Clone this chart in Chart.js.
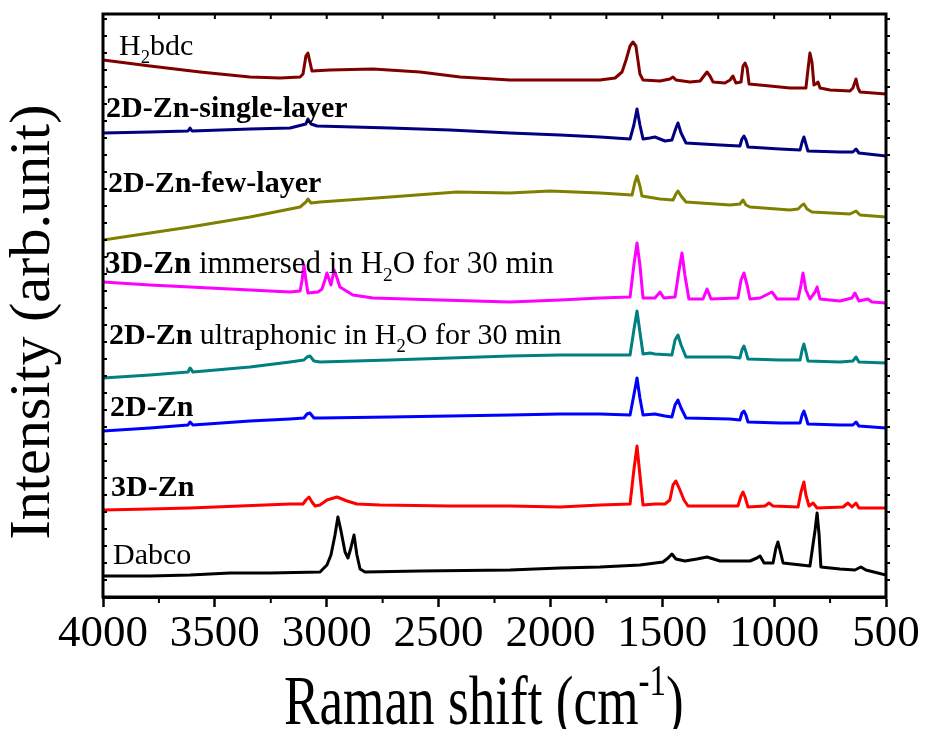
<!DOCTYPE html>
<html>
<head>
<meta charset="utf-8">
<script src="https://cdn.jsdelivr.net/npm/chart.js@4.4.1/dist/chart.umd.min.js"></script>
<style>
html,body{margin:0;padding:0;background:#fff}
</style>
</head>
<body>
<canvas id="raman" width="927" height="729"></canvas>
<script>
// spectra: [Raman shift (cm-1), intensity (arb.)]
const h2bdc=[[4000,537],[3790,531],[3566,525],[3343,520],[3209,519],[3119,520],[3106,523],[3093,541],[3084,544],[3075,535],[3066,526],[2985,527],[2793,528],[2583,525],[2404,520],[2181,517],[1957,517],[1778,517],[1711,519],[1680,525],[1662,537],[1644,551],[1631,555],[1618,551],[1609,537],[1600,523],[1586,517],[1510,516],[1466,518],[1452,520],[1439,517],[1376,515],[1331,516],[1314,521],[1300,525],[1287,521],[1273,515],[1220,514],[1197,517],[1184,521],[1171,514],[1148,515],[1139,531],[1130,534],[1121,529],[1112,513],[1019,511],[929,509],[858,509],[849,527],[840,544],[831,535],[822,512],[813,513],[804,515],[795,509],[750,507],[661,506],[648,509],[634,518],[625,509],[616,505],[500,503]];
const singleLayer=[[4000,464],[3790,465],[3620,466],[3611,469],[3602,466],[3343,468],[3164,469],[3093,473],[3084,478],[3070,473],[3043,471],[2717,469],[2449,467],[2181,464],[1957,462],[1778,460],[1644,458],[1627,472],[1613,488],[1600,472],[1586,458],[1555,459],[1533,460],[1488,456],[1457,457],[1439,469],[1430,474],[1416,464],[1394,454],[1242,452],[1153,451],[1144,458],[1135,461],[1126,457],[1117,450],[974,448],[884,447],[875,455],[867,460],[858,453],[849,446],[706,445],[648,445],[634,448],[621,444],[500,441]];
const fewLayer=[[4000,357],[3790,364],[3611,370],[3343,380],[3119,390],[3093,395],[3084,398],[3070,394],[3030,395],[2717,400],[2418,405],[2181,404],[2002,406],[1778,404],[1635,402],[1622,415],[1613,421],[1600,411],[1591,401],[1510,398],[1452,397],[1439,403],[1430,406],[1416,401],[1394,395],[1197,392],[1153,393],[1139,397],[1126,392],[1108,390],[929,387],[893,388],[875,392],[867,393],[853,388],[831,385],[661,383],[634,386],[616,382],[500,380]];
const immersed=[[4000,315],[3790,312],[3611,310],[3343,307],[3164,305],[3119,306],[3110,317],[3102,332],[3093,317],[3084,304],[3039,305],[3021,308],[3008,317],[2999,324],[2981,312],[2967,327],[2954,319],[2941,310],[2883,302],[2793,299],[2494,297],[2181,295],[1957,297],[1778,299],[1644,300],[1627,332],[1613,354],[1600,332],[1586,299],[1533,299],[1510,305],[1493,299],[1443,300],[1425,327],[1412,344],[1399,322],[1381,298],[1318,298],[1300,308],[1282,298],[1162,299],[1148,317],[1135,324],[1121,312],[1108,298],[1063,299],[1036,302],[1010,305],[987,298],[893,298],[880,312],[871,324],[858,307],[840,298],[817,305],[808,310],[795,298],[706,296],[652,299],[639,304],[621,296],[581,298],[563,295],[500,294]];
const ultraphonic=[[4000,219],[3790,222],[3620,225],[3611,229],[3598,225],[3343,230],[3164,235],[3102,237],[3088,240],[3075,241],[3057,236],[3030,235],[2717,237],[2449,239],[2181,241],[1957,242],[1778,242],[1644,242],[1627,267],[1613,286],[1600,265],[1586,243],[1555,244],[1533,243],[1457,242],[1443,257],[1430,262],[1416,252],[1394,240],[1197,240],[1153,239],[1144,247],[1135,251],[1126,245],[1117,238],[974,237],[884,237],[875,247],[867,253],[858,245],[849,236],[706,235],[648,236],[634,240],[621,235],[500,234]];
const zn2d=[[4000,166],[3790,169],[3620,172],[3611,175],[3598,172],[3343,176],[3164,178],[3102,179],[3088,183],[3075,184],[3057,179],[3030,179],[2717,180],[2449,181],[2181,182],[1957,183],[1778,183],[1644,182],[1627,202],[1613,219],[1600,199],[1586,182],[1533,183],[1488,181],[1457,180],[1443,192],[1430,197],[1416,189],[1394,179],[1197,178],[1153,177],[1144,184],[1135,186],[1126,182],[1117,175],[974,174],[884,174],[875,182],[867,186],[858,180],[849,173],[706,172],[648,172],[634,175],[621,171],[500,169]];
const zn3d=[[4000,87],[3790,88],[3611,89],[3388,91],[3164,93],[3106,93],[3093,97],[3079,100],[3066,95],[3052,91],[3030,92],[2999,97],[2954,100],[2909,96],[2865,93],[2762,92],[2449,91],[2181,91],[1957,90],[1778,92],[1644,93],[1627,127],[1613,151],[1600,122],[1586,92],[1533,93],[1488,93],[1466,97],[1452,112],[1439,116],[1421,107],[1403,97],[1385,91],[1242,91],[1162,91],[1148,101],[1139,105],[1130,100],[1117,90],[1041,91],[1023,94],[1005,91],[893,90],[880,105],[867,115],[858,102],[844,91],[826,94],[808,89],[692,90],[670,94],[652,90],[634,94],[621,89],[500,89]];
const dabco=[[4000,21],[3790,21],[3611,22],[3432,24],[3253,24],[3030,25],[2999,32],[2981,42],[2963,62],[2950,80],[2937,67],[2918,45],[2905,39],[2892,49],[2878,62],[2865,42],[2851,28],[2829,25],[2583,26],[2181,27],[1957,29],[1778,30],[1600,32],[1497,35],[1474,39],[1457,43],[1439,38],[1399,36],[1345,38],[1300,40],[1242,36],[1108,36],[1077,39],[1063,41],[1045,34],[1005,34],[992,49],[983,55],[974,47],[960,34],[840,31],[817,67],[808,84],[799,62],[791,30],[706,28],[639,27],[612,30],[590,27],[500,22]];

const series=[h2bdc,singleLayer,fewLayer,immersed,ultraphonic,zn2d,zn3d,dabco];
const colors=['#800000','#000080','#808000','#ff00ff','#008080','#0000ff','#ff0000','#000000'];
// label pieces: b = bold, s = subscript
const labels=[
  [{t:'H'},{t:'2',s:1},{t:'bdc'}],
  [{t:'2D-Zn-single-layer',b:1}],
  [{t:'2D-Zn-few-layer',b:1}],
  [{t:'3D-Zn',b:1},{t:' immersed in H'},{t:'2',s:1},{t:'O for 30 min'}],
  [{t:'2D-Zn',b:1},{t:' ultraphonic in H'},{t:'2',s:1},{t:'O for 30 min'}],
  [{t:'2D-Zn',b:1}],
  [{t:'3D-Zn',b:1}],
  [{t:'Dabco'}]
];
const labelPos=[[119,55],[106,117],[108,192],[105,273],[109,344],[110,416],[111,496],[113,564]];
const labelSize=[30,30,30,31,30,30,30,30];
const xTicks=[4000,3500,3000,2500,2000,1500,1000,500];

const FONT='"Liberation Serif", "Times New Roman", serif';

function rich(ctx,x,y,parts,size){
  let cx=x;
  parts.forEach(p=>{
    const fs=p.s||p.u?size*0.62:size;
    ctx.font=(p.b?'bold ':'')+fs+'px '+FONT;
    const dy=p.s?size*0.26:(p.u?-size*0.42:0);
    ctx.fillText(p.t,cx,y+dy);
    cx+=ctx.measureText(p.t).width;
  });
}

const frame={
  id:'frame',
  afterDraw(chart){
    const {ctx,chartArea:a,scales:{x,y}}=chart;
    ctx.save();
    ctx.strokeStyle='#000';
    ctx.lineWidth=3;
    ctx.strokeRect(a.left,a.top,a.right-a.left,a.bottom-a.top);
    ctx.lineWidth=2;
    ctx.beginPath();
    for(let v=500;v<=4000;v+=250){
      const px=x.getPixelForValue(v);
      ctx.moveTo(px,a.top);ctx.lineTo(px,a.top+5);
      if(v%500){ctx.moveTo(px,a.bottom);ctx.lineTo(px,a.bottom+6);}
    }
    for(let v=17;v<583;v+=17){
      const py=y.getPixelForValue(v);
      ctx.moveTo(a.left,py);ctx.lineTo(a.left+4,py);
      ctx.moveTo(a.right,py);ctx.lineTo(a.right+4,py);
    }
    ctx.stroke();

    ctx.fillStyle='#000';
    ctx.textBaseline='alphabetic';
    ctx.textAlign='left';
    labels.forEach((l,i)=>rich(ctx,labelPos[i][0],labelPos[i][1],l,labelSize[i]));

    // x title, condensed like the original
    ctx.save();
    ctx.translate(284,724);
    ctx.scale(0.76,1);
    rich(ctx,0,0,[{t:'Raman shift (cm'},{t:'-1',u:1},{t:')'}],70);
    ctx.restore();

    // y title
    ctx.save();
    ctx.translate(49,322);
    ctx.rotate(-Math.PI/2);
    ctx.textAlign='center';
    ctx.font='58px '+FONT;
    ctx.fillText('Intensity (arb.unit)',0,0);
    ctx.restore();
    ctx.restore();
  }
};

new Chart(document.getElementById('raman'),{
  type:'line',
  data:{
    datasets:series.map((s,i)=>({
      data:s.map(p=>({x:p[0],y:p[1]})),
      borderColor:colors[i],
      borderWidth:3,
      pointRadius:0,
      tension:0,
      borderJoinStyle:'round',
      borderCapStyle:'round'
    }))
  },
  options:{
    responsive:false,
    animation:false,
    layout:{padding:{left:103,top:14,right:41,bottom:68}},
    plugins:{legend:{display:false},tooltip:{enabled:false}},
    scales:{
      x:{
        type:'linear',reverse:true,min:500,max:4000,
        afterBuildTicks(scale){scale.ticks=xTicks.map(v=>({value:v}));},
        ticks:{color:'#000',padding:0,maxRotation:0,autoSkip:false,font:{family:FONT,size:45},callback:v=>String(v)},
        grid:{drawOnChartArea:false,drawTicks:true,tickLength:10,tickWidth:2.5,tickColor:'#000'},
        border:{display:true,color:'#000',width:3}
      },
      y:{
        display:false,min:0,max:583
      }
    }
  },
  plugins:[frame]
});
</script>
</body>
</html>
